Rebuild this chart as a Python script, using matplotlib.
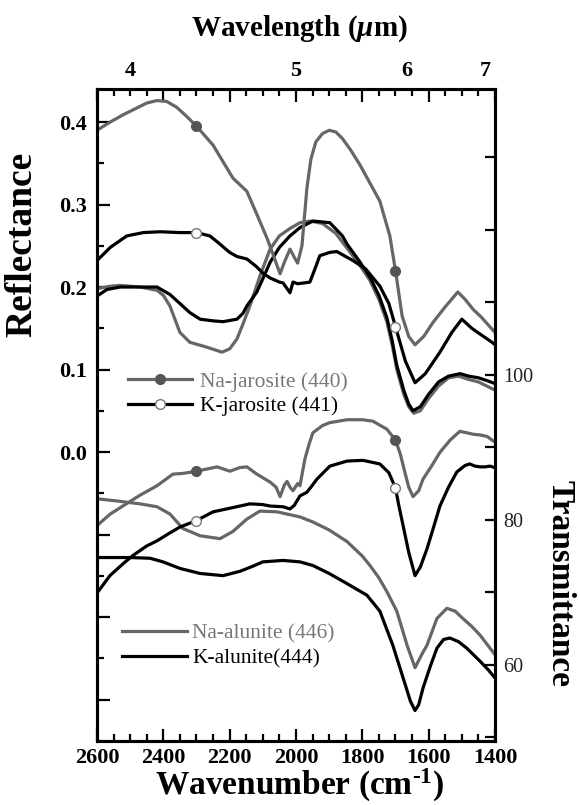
import numpy as np
import matplotlib
matplotlib.use("Agg")
import matplotlib.pyplot as plt
from matplotlib.ticker import MultipleLocator, FuncFormatter, NullLocator
from matplotlib.lines import Line2D

plt.rcParams['font.family'] = ['Liberation Serif', 'DejaVu Serif']
plt.rcParams['mathtext.fontset'] = 'custom'
plt.rcParams['mathtext.rm'] = 'Liberation Serif:bold'
plt.rcParams['mathtext.it'] = 'Liberation Serif:italic:bold'
plt.rcParams['mathtext.bf'] = 'Liberation Serif:bold'

GRAY = '#666666'

# Reflectance (eixo esquerdo)
wn_najar_r = [2600, 2560, 2520, 2480, 2450, 2420, 2390, 2360, 2330, 2300, 2250, 2190, 2148, 2120, 2087,
              2066, 2048, 2035, 2018, 2005, 1995, 1982, 1967, 1955, 1940, 1920, 1900, 1880, 1860, 1835,
              1807, 1747, 1717, 1700, 1680, 1660, 1641, 1615, 1587, 1550, 1512, 1490, 1466, 1440, 1409,
              1400]
najar_r = [0.390, 0.400, 0.409, 0.417, 0.423, 0.426, 0.425, 0.418, 0.407, 0.395, 0.372, 0.332, 0.316, 0.290, 0.259,
           0.236, 0.216, 0.230, 0.246, 0.236, 0.229, 0.250, 0.320, 0.355, 0.376, 0.386, 0.390, 0.388, 0.380, 0.366,
           0.348, 0.304, 0.262, 0.220, 0.165, 0.140, 0.130, 0.140, 0.157, 0.176, 0.194, 0.185, 0.173, 0.163, 0.149,
           0.145]

wn_kjar_r = [2600, 2560, 2510, 2460, 2410, 2350, 2300, 2260, 2238, 2200, 2178, 2148, 2120, 2100, 2078,
             2050, 2039, 2018, 2009, 1995, 1975, 1958, 1940, 1928, 1898, 1877, 1828, 1790, 1747, 1720,
             1700, 1670, 1641, 1610, 1566, 1530, 1500, 1470, 1445, 1409, 1400]
kjar_r = [0.232, 0.248, 0.262, 0.266, 0.267, 0.266, 0.266, 0.262, 0.255, 0.242, 0.237, 0.234, 0.225, 0.217, 0.211,
          0.206, 0.205, 0.193, 0.206, 0.204, 0.205, 0.206, 0.225, 0.238, 0.242, 0.243, 0.232, 0.222, 0.201, 0.180,
          0.152, 0.110, 0.084, 0.095, 0.121, 0.145, 0.161, 0.150, 0.143, 0.133, 0.130]

wn_naal_r = [2600, 2560, 2531, 2470, 2419, 2400, 2380, 2350, 2320, 2268, 2223, 2200, 2178, 2160, 2139,
             2109, 2078, 2050, 2018, 1988, 1958, 1920, 1880, 1846, 1810, 1777, 1750, 1726, 1710, 1696,
             1675, 1660, 1645, 1625, 1600, 1570, 1540, 1510, 1480, 1450, 1420, 1400]
naal_r = [0.198, 0.201, 0.202, 0.200, 0.196, 0.190, 0.177, 0.145, 0.133, 0.127, 0.121, 0.125, 0.137, 0.155, 0.177,
          0.213, 0.246, 0.262, 0.271, 0.278, 0.280, 0.277, 0.265, 0.247, 0.228, 0.208, 0.185, 0.158, 0.130, 0.100,
          0.070, 0.055, 0.047, 0.050, 0.065, 0.080, 0.090, 0.092, 0.088, 0.085, 0.079, 0.075]

wn_kal_r = [2600, 2570, 2530, 2470, 2419, 2380, 2350, 2320, 2289, 2250, 2220, 2178, 2160, 2148, 2118,
            2100, 2078, 2050, 2018, 1988, 1949, 1898, 1860, 1846, 1810, 1777, 1750, 1726, 1710, 1696,
            1675, 1660, 1647, 1625, 1600, 1570, 1540, 1505, 1480, 1450, 1420, 1400]
kal_r = [0.189, 0.197, 0.200, 0.200, 0.200, 0.191, 0.180, 0.169, 0.161, 0.159, 0.158, 0.161, 0.168, 0.177, 0.194,
         0.210, 0.230, 0.248, 0.262, 0.272, 0.280, 0.278, 0.262, 0.252, 0.232, 0.212, 0.190, 0.163, 0.135, 0.105,
         0.075, 0.058, 0.050, 0.055, 0.070, 0.085, 0.092, 0.095, 0.092, 0.090, 0.086, 0.083]

# Transmittance (eixo direito)
wn_najar_t = [2600, 2560, 2522, 2470, 2419, 2371, 2340, 2300, 2238, 2199, 2170, 2148, 2118, 2078, 2060,
              2048, 2035, 2027, 2018, 2009, 1995, 1988, 1973, 1960, 1949, 1920, 1898, 1846, 1800, 1768,
              1726, 1700, 1685, 1672, 1660, 1647, 1630, 1617, 1590, 1566, 1535, 1506, 1485, 1466, 1445,
              1424, 1400]
najar_t = [79.2, 80.8, 81.9, 83.4, 84.7, 86.3, 86.4, 86.7, 87.3, 86.7, 87.2, 87.3, 86.3, 85.2, 84.5,
           83.2, 84.8, 85.3, 84.5, 84.0, 85.0, 84.7, 88.4, 90.5, 92.0, 93.0, 93.4, 93.8, 93.8, 93.6,
           92.5, 91.0, 89.0, 86.6, 84.5, 83.2, 84.0, 85.6, 87.5, 89.3, 91.0, 92.2, 92.0, 91.8, 91.7,
           91.5, 90.7]

wn_kjar_t = [2600, 2561, 2520, 2491, 2450, 2419, 2380, 2350, 2300, 2250, 2199, 2139, 2100, 2078, 2039,
             2018, 2005, 1988, 1967, 1950, 1937, 1898, 1846, 1798, 1747, 1720, 1700, 1690, 1677, 1660,
             1641, 1625, 1605, 1585, 1566, 1540, 1515, 1490, 1476, 1460, 1445, 1430, 1415, 1400]
kjar_t = [69.9, 72.3, 74.0, 75.1, 76.4, 77.1, 78.2, 79.0, 79.9, 81.1, 81.6, 82.2, 82.1, 81.9, 81.8,
          81.5, 82.0, 83.3, 83.8, 84.8, 85.6, 87.4, 88.1, 88.2, 87.7, 86.5, 84.4, 82.0, 79.2, 75.5,
          72.3, 73.5, 76.0, 79.0, 81.9, 84.5, 86.6, 87.5, 87.7, 87.4, 87.3, 87.3, 87.4, 87.2]

wn_naal_t = [2600, 2540, 2470, 2419, 2380, 2341, 2289, 2229, 2190, 2148, 2109, 2057, 1988, 1949, 1900,
             1846, 1800, 1777, 1750, 1726, 1696, 1665, 1641, 1620, 1605, 1575, 1545, 1520, 1497, 1470,
             1445, 1420, 1400]
naal_t = [82.9, 82.6, 82.2, 81.8, 80.8, 78.8, 77.8, 77.4, 78.4, 80.1, 81.2, 81.1, 80.4, 79.7, 78.6,
          77.0, 75.0, 73.7, 72.0, 70.1, 67.4, 62.7, 59.6, 61.5, 62.7, 66.4, 67.8, 67.4, 66.4, 65.3,
          64.1, 62.6, 61.4]

wn_kal_t = [2600, 2500, 2440, 2401, 2350, 2289, 2220, 2169, 2130, 2100, 2039, 1988, 1949, 1900, 1846,
            1786, 1747, 1708, 1677, 1655, 1641, 1630, 1617, 1595, 1575, 1555, 1536, 1510, 1485, 1445,
            1420, 1400]
kal_t = [74.8, 74.8, 74.7, 74.2, 73.3, 72.6, 72.3, 72.9, 73.6, 74.2, 74.4, 74.2, 73.7, 72.6, 71.2,
         69.6, 67.4, 62.7, 58.2, 55.0, 53.7, 54.5, 56.8, 59.8, 62.3, 63.5, 63.7, 63.2, 62.3, 60.5,
         59.3, 58.2]

# marcadores das jarositas (2300 e 1700 cm-1)
marker_wn = [2300, 1700]

def at_markers(wn, vals):
    return [vals[wn.index(m)] for m in marker_wn]

fig = plt.figure(figsize=(5.8, 8.05), dpi=100)
ax = fig.add_axes([0.1672, 0.0795, 0.6862, 0.8099])
ax2 = ax.twinx()

lw = 2.3
ax.plot(wn_naal_r, naal_r, color=GRAY, lw=lw)
ax.plot(wn_kal_r, kal_r, color='black', lw=lw)
ax.plot(wn_kjar_r, kjar_r, color='black', lw=lw)
ax.plot(wn_najar_r, najar_r, color=GRAY, lw=lw)
ax.plot(marker_wn, at_markers(wn_najar_r, najar_r), 'o', ms=7, color='#555555')
ax.plot(marker_wn, at_markers(wn_kjar_r, kjar_r), 'o', ms=7, mfc='white', mec='#777777', mew=1)

ax2.plot(wn_naal_t, naal_t, color=GRAY, lw=lw)
ax2.plot(wn_kal_t, kal_t, color='black', lw=lw)
ax2.plot(wn_kjar_t, kjar_t, color='black', lw=lw)
ax2.plot(wn_najar_t, najar_t, color=GRAY, lw=lw)
ax2.plot(marker_wn, at_markers(wn_najar_t, najar_t), 'o', ms=7, color='#555555')
ax2.plot(marker_wn, at_markers(wn_kjar_t, kjar_t), 'o', ms=7, mfc='white', mec='#777777', mew=1)

ax.set_xlim(2600, 1400)
ax.set_ylim(-0.3503, 0.44)
ax2.set_ylim(49.5, 139.4)

for a in (ax, ax2):
    for s in a.spines.values():
        s.set_linewidth(2.2)

# eixo x (numero de onda)
ax.xaxis.set_major_locator(MultipleLocator(200))
ax.xaxis.set_minor_locator(MultipleLocator(50))
ax.tick_params(axis='x', which='both', direction='in', top=True, bottom=True, width=1.6)
ax.tick_params(axis='x', which='major', length=9, pad=5, labelsize=16)
ax.tick_params(axis='x', which='minor', length=5)

# eixo y esquerdo (reflectancia)
def refl_fmt(v, pos):
    if abs(v) < 1e-9:
        return '0.0'
    return f'{v:.1f}' if v > 0 else ''

ax.yaxis.set_major_locator(MultipleLocator(0.1))
ax.yaxis.set_minor_locator(MultipleLocator(0.05))
ax.yaxis.set_major_formatter(FuncFormatter(refl_fmt))
ax.tick_params(axis='y', which='both', direction='in', right=False, width=1.6)
ax.tick_params(axis='y', which='major', length=9, pad=7, labelsize=16)
ax.tick_params(axis='y', which='minor', length=5)
for lab in ax.get_xticklabels() + ax.get_yticklabels():
    lab.set_fontweight('bold')

# eixo y direito (transmitancia)
ax2.yaxis.set_major_locator(MultipleLocator(10))
ax2.yaxis.set_major_formatter(FuncFormatter(lambda v, p: f'{v:.0f}' if round(v) in (60, 80, 100) else ''))
ax2.tick_params(axis='y', direction='in', length=7, width=1.6, pad=6, labelsize=14.5, labelcolor='#222222')

# eixo superior (comprimento de onda)
def inv(x):
    x = np.asarray(x, dtype=float)
    with np.errstate(divide='ignore'):
        return 1e4 / x

sec = ax.secondary_xaxis('top', functions=(inv, inv))
sec.set_xticks([4, 5, 6, 7])
sec.xaxis.set_minor_locator(NullLocator())
sec.tick_params(length=0, pad=6, labelsize=16)
sec.spines['top'].set_visible(False)
for lab in sec.get_xticklabels():
    lab.set_fontweight('bold')

fig.text(0.517, 0.965, r'Wavelength ($\mu$m)', ha='center', va='center', fontsize=21, fontweight='bold')
fig.text(0.517, 0.024, r'Wavenumber (cm$^{\text{-}1}$)', ha='center', va='center', fontsize=24, fontweight='bold')
fig.text(0.038, 0.697, 'Reflectance', rotation=90, ha='center', va='center', fontsize=27, fontweight='bold')
fig.text(0.965, 0.275, 'Transmittance', rotation=-90, ha='center', va='center', fontsize=24, fontweight='bold')

# legendas
h_jar = [Line2D([], [], color=GRAY, lw=lw, marker='o', ms=7, mfc='#555555', mec='#555555'),
         Line2D([], [], color='black', lw=lw, marker='o', ms=7, mfc='white', mec='#777777', mew=1)]
leg1 = fig.legend(h_jar, ['Na-jarosite (440)', 'K-jarosite (441)'], loc='center left',
                  bbox_to_anchor=(0.2207, 0.5106), frameon=False, fontsize=15.5, handlelength=2.97,
                  handletextpad=0.37, labelspacing=0.2, borderpad=0, borderaxespad=0, numpoints=1)
leg1.get_texts()[0].set_color('#777777')

h_al = [Line2D([], [], color=GRAY, lw=lw), Line2D([], [], color='black', lw=lw)]
leg2 = fig.legend(h_al, ['Na-alunite (446)', 'K-alunite(444)'], loc='center left',
                  bbox_to_anchor=(0.2103, 0.1975), frameon=False, fontsize=15.5, handlelength=3.0,
                  handletextpad=0.25, labelspacing=0.2, borderpad=0, borderaxespad=0)
leg2.get_texts()[0].set_color('#777777')

fig.savefig('out.png', dpi=100)
